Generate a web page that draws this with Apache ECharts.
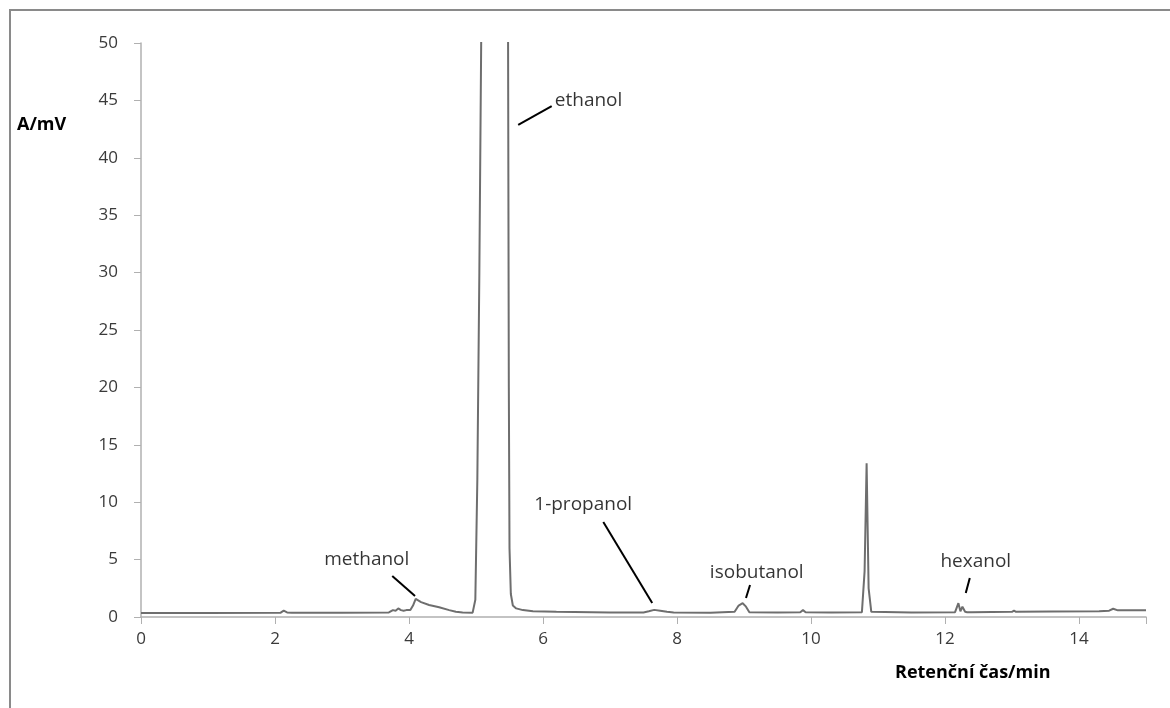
<!DOCTYPE html>
<html>
<head>
<meta charset="utf-8">
<script src="https://cdn.jsdelivr.net/npm/echarts@6/dist/echarts.min.js"></script>
<style>
html,body{margin:0;padding:0;background:#fff;}
#frame{position:absolute;left:9px;top:9px;width:1170px;height:710px;border-left:2px solid #8a8a8a;border-top:2px solid #8a8a8a;box-sizing:border-box;}
#chart{position:absolute;left:0;top:0;width:1170px;height:708px;}
</style>
</head>
<body>
<div id="frame"></div>
<div id="chart"></div>
<script>
// Retention time (min) and signal (mV)
const retentionTime = [
  0, 1.0, 2.08, 2.13, 2.18, 2.25, 3.0, 3.7, 3.76, 3.8, 3.84, 3.88, 3.92, 3.96, 4.02, 4.06, 4.1, 4.18, 4.3, 4.45, 4.6, 4.7, 4.8, 4.95,
  4.99, 5.02, 5.05, 5.08, 5.1, 5.2, 5.3, 5.4, 5.46, 5.475, 5.49, 5.5, 5.52, 5.55, 5.6, 5.7, 5.85, 6.2, 7.0, 7.5, 7.58, 7.66, 7.75, 7.85, 7.95,
  8.5, 8.86, 8.92, 8.98, 9.03, 9.08, 9.5, 9.84, 9.88, 9.92, 10.3, 10.76, 10.8, 10.83, 10.86, 10.9, 11.5, 12.15, 12.2, 12.23, 12.26, 12.3, 12.33, 12.4,
  13.0, 13.03, 13.06, 13.6, 14.3, 14.45, 14.51, 14.58, 14.7, 15.0
];
const signal = [
  0.35, 0.35, 0.36, 0.55, 0.4, 0.36, 0.37, 0.4, 0.6, 0.55, 0.75, 0.6, 0.55, 0.6, 0.6, 1.0, 1.57, 1.3, 1.05, 0.85, 0.6, 0.45, 0.4, 0.38,
  1.5, 12, 30, 52, 120, 400, 600, 400, 150, 60, 20, 6, 2.0, 1.0, 0.75, 0.6, 0.5, 0.45, 0.4, 0.4, 0.5, 0.62, 0.55, 0.45, 0.4,
  0.38, 0.45, 1.0, 1.2, 0.9, 0.42, 0.4, 0.42, 0.6, 0.42, 0.4, 0.42, 4.0, 13.4, 2.5, 0.45, 0.4, 0.42, 1.2, 0.5, 0.9, 0.45, 0.42, 0.42,
  0.45, 0.55, 0.45, 0.48, 0.5, 0.55, 0.72, 0.58, 0.58, 0.58
];
const yTicks = [0, 5, 10, 15, 20, 25, 30, 35, 40, 45, 50];
const xTicks = [0, 2, 4, 6, 8, 10, 12, 14];
const yTitle = 'A/mV';
const xTitle = 'Retenční čas/min';
// Peak labels: text, text anchor (x, y) and leader line from -> to, in data units
const labelNames = ['methanol', 'ethanol', '1-propanol', 'isobutanol', 'hexanol'];
const labelPos = [[3.37, 4.97], [6.68, 45.0], [6.6, 9.76], [9.19, 3.83], [12.46, 4.79]];
const leaderFrom = [[3.75, 3.57], [5.63, 42.86], [6.9, 8.28], [9.09, 2.79], [12.37, 3.40]];
const leaderTo = [[4.09, 1.83], [6.13, 44.51], [7.63, 1.22], [9.03, 1.66], [12.31, 2.09]];

const pts = retentionTime.map((t, i) => [t, signal[i]]);
const font = '"Open Sans", "Noto Sans", sans-serif';
const chart = echarts.init(document.getElementById('chart'));
chart.setOption({
  animation: false,
  backgroundColor: 'transparent',
  grid: {left: 141, top: 43, right: 24, bottom: 91, containLabel: false},
  xAxis: {
    type: 'value', min: 0, max: 15, interval: 2,
    axisLine: {show: true, onZero: false, lineStyle: {color: '#b0b0b0', width: 1.5}},
    axisTick: {show: true, length: 7, lineStyle: {color: '#b0b0b0'}},
    splitLine: {show: false},
    axisLabel: {color: '#3a3a3a', fontSize: 17, fontFamily: font, margin: 14,
      formatter: v => xTicks.includes(v) ? String(v) : ''}
  },
  yAxis: {
    type: 'value', min: 0, max: 50, interval: 5,
    axisLine: {show: true, lineStyle: {color: '#b0b0b0', width: 1.5}},
    axisTick: {show: true, length: 7, lineStyle: {color: '#b0b0b0'}},
    splitLine: {show: false},
    axisLabel: {color: '#3a3a3a', fontSize: 17, fontFamily: font, margin: 23,
      formatter: v => yTicks.includes(v) ? String(v) : ''}
  },
  graphic: [
    {type: 'text', left: 17, top: 116, style: {text: yTitle, fill: '#000', font: 'bold 18px ' + font}},
    {type: 'text', left: 895, top: 664, style: {text: xTitle, fill: '#000', font: 'bold 18px ' + font}}
  ],
  series: [{
    type: 'line', data: pts, showSymbol: false, clip: true,
    lineStyle: {color: '#6e6e6e', width: 2}, smooth: false,
    markLine: {
      silent: true, symbol: ['none', 'none'],
      lineStyle: {color: '#000', width: 2, type: 'solid'},
      label: {show: false},
      data: leaderFrom.map((f, i) => [{coord: f}, {coord: leaderTo[i]}])
    }
  }, {
    type: 'scatter', data: labelPos.map((p, i) => ({value: p, name: labelNames[i]})),
    symbolSize: 0, silent: true,
    label: {show: true, position: 'inside', formatter: p => p.name,
      color: '#000', fontSize: 19, fontFamily: font}
  }]
});
</script>
</body>
</html>
